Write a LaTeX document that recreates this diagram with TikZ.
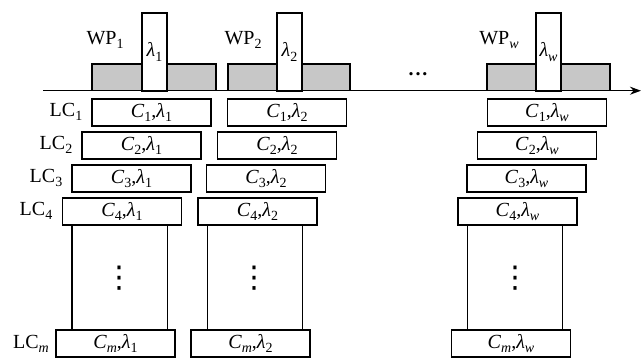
\documentclass[tikz,border=0pt]{standalone}
\usepackage{fontspec}
\setmainfont{Liberation Serif}
\newfontfamily\dejavu{DejaVu Sans}
\usetikzlibrary{arrows.meta,calc}
\newcommand{\lsb}[1]{\raisebox{-0.45ex}{\fontsize{14}{14}\selectfont #1}}
\newcommand{\lam}{\textit{λ}}
\newcommand{\cell}[2]{\textit{C}\lsb{#1},\lam\lsb{#2}}
\tikzset{
  base/.style={line width=1.4pt, draw=black},
  cbox/.style={base, rectangle, minimum width=119pt, minimum height=27pt, inner sep=0pt, fill=white, font=\fontsize{20}{24}\selectfont},
  gbox/.style={base, fill=black!22},
  tbox/.style={base, fill=white, rectangle, minimum width=25pt, minimum height=78pt, inner sep=0pt, font=\fontsize{20}{24}\selectfont},
  lbl/.style={font=\fontsize{20}{24}\selectfont, inner sep=0pt},
  vdot/.style={font=\dejavu\fontsize{30}{30}\selectfont, inner sep=0pt},
  vline/.style={base},
}
\begin{document}
\begin{tikzpicture}[x=1pt,y=-1pt]
\useasboundingbox (0,0) rectangle (641,357);
\clip (0,0) rectangle (641,357);
% axis
\coordinate (ax0) at (43,90.7);
\coordinate (ax1) at (641,90.7);
% gray wavelength plan boxes
\draw[gbox] (92,64) rectangle (216,90.7);
\draw[gbox] (228,64) rectangle (350,90.7);
\draw[gbox] (487,64) rectangle (610,90.7);
\node[tbox] (t1) at (154.5,52) {\lam\lsb{1}};
\node[tbox] (t2) at (289.5,52) {\lam\lsb{2}};
\node[tbox] (tw) at (548.5,52) {\lam\lsb{\textit{w}}};
\draw[base, -{Stealth[length=11pt,width=8pt]}] (ax0) -- (ax1);
% WP labels
\node[lbl] (wp1) at (105,40) {WP\lsb{1}};
\node[lbl] (wp2) at (243,40) {WP\lsb{2}};
\node[lbl] (wpw) at (499,40) {WP\lsb{\textit{w}}};
\node[lbl] (hd) at (418,74) {\textbf{.\kern1.8pt.\kern1.8pt.}};
% rows
\node[cbox] (c11) at (151.5,112.5) {\cell{1}{1}};
\node[cbox] (c12) at (287,112.5) {\cell{1}{2}};
\node[cbox] (c1w) at (547,112.5) {\cell{1}{\textit{w}}};
\node[cbox] (c21) at (141.5,145.5) {\cell{2}{1}};
\node[cbox] (c22) at (277,145.5) {\cell{2}{2}};
\node[cbox] (c2w) at (537,145.5) {\cell{2}{\textit{w}}};
\node[cbox] (c31) at (131.5,178.5) {\cell{3}{1}};
\node[cbox] (c32) at (266,178.5) {\cell{3}{2}};
\node[cbox] (c3w) at (526.5,178.5) {\cell{3}{\textit{w}}};
\node[cbox] (c41) at (122,211.5) {\cell{4}{1}};
\node[cbox] (c42) at (257.5,211.5) {\cell{4}{2}};
\node[cbox] (c4w) at (517.5,211.5) {\cell{4}{\textit{w}}};
\node[cbox] (cm1) at (115.5,343.5) {\cell{\textit{m}}{1}};
\node[cbox] (cm2) at (250.5,343.5) {\cell{\textit{m}}{2}};
\node[cbox] (cmw) at (511,343.5) {\cell{\textit{m}}{\textit{w}}};
% row labels
\node[lbl] (l1) at (66,112) {LC\lsb{1}};
\node[lbl] (l2) at (56,145) {LC\lsb{2}};
\node[lbl] (l3) at (46,178) {LC\lsb{3}};
\node[lbl] (l4) at (36,211) {LC\lsb{4}};
\node[lbl] (lm) at (31,344) {LC\lsb{\textit{m}}};
% vertical side lines
\foreach \c in {1,2,w}{
  \coordinate (a\c) at ($(c4\c.south west)+(10,0)$);
  \coordinate (b\c) at ($(c4\c.south east)+(-15,0)$);
  \draw[vline] (a\c) -- (a\c |- cm\c.north);
  \draw[vline] (b\c) -- (b\c |- cm\c.north);
}
% vertical dots
\node[vdot] (v1) at (119,278) {⋮};
\node[vdot] (v2) at (254,278) {⋮};
\node[vdot] (vw) at (515,278) {⋮};
\end{tikzpicture}
\end{document}
